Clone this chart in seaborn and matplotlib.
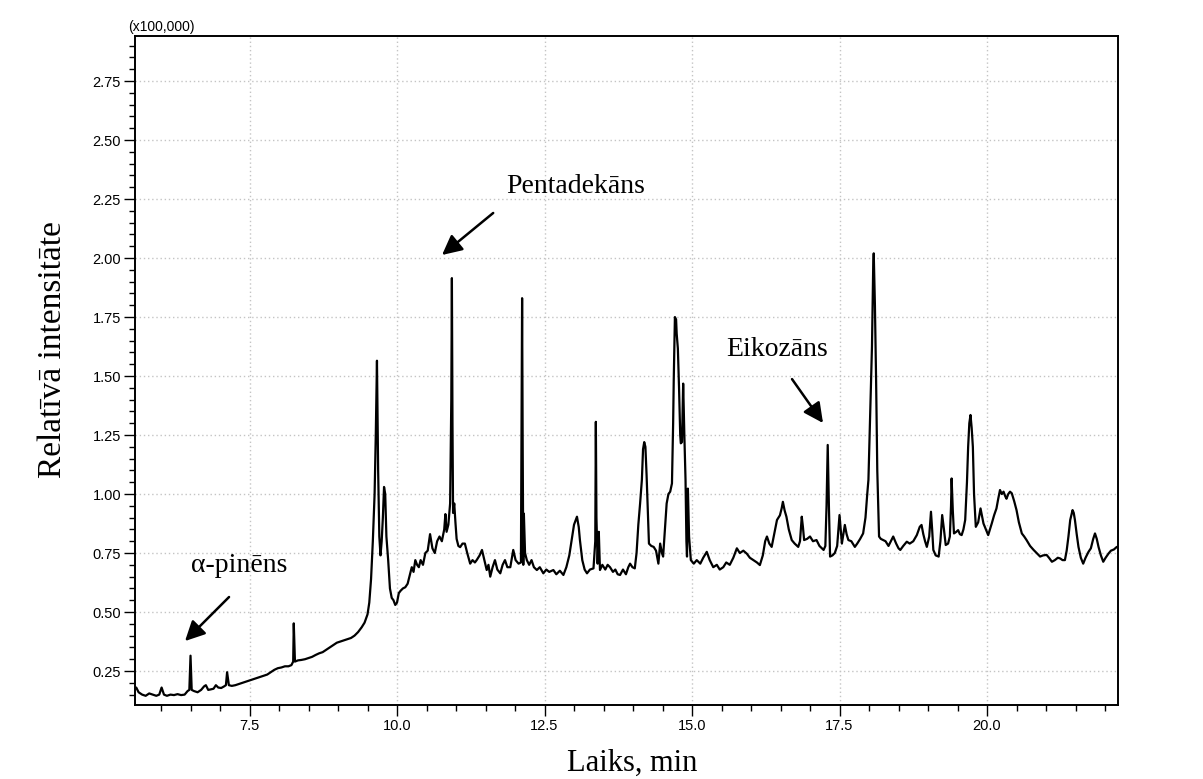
import numpy as np
import pandas as pd
import matplotlib
matplotlib.use("Agg")
import matplotlib.pyplot as plt
from matplotlib.ticker import MultipleLocator, FormatStrFormatter
import seaborn as sns

# ---------------- data (retention time, min ; intensity x100,000) ----------------
rt_early = [5.58, 5.62, 5.68, 5.74, 5.80, 5.86, 5.92, 5.97, 6.01, 6.05, 6.10, 6.16, 6.22, 6.28,
            6.34, 6.40, 6.45, 6.48, 6.50, 6.52, 6.56, 6.62, 6.68, 6.73, 6.76, 6.80, 6.84, 6.89,
            6.93, 6.97, 7.02, 7.07, 7.10, 7.12, 7.15, 7.20, 7.26, 7.32, 7.38, 7.44, 7.50, 7.56,
            7.62, 7.68, 7.74, 7.80, 7.86, 7.92, 7.98, 8.04, 8.10, 8.16, 8.21, 8.24, 8.25, 8.27,
            8.32, 8.38, 8.44, 8.50, 8.56, 8.62, 8.68, 8.74, 8.80, 8.86, 8.92, 8.98, 9.04, 9.10,
            9.16, 9.22, 9.28, 9.34, 9.40, 9.45, 9.50, 9.53, 9.56, 9.59, 9.62, 9.64, 9.66, 9.68,
            9.70, 9.72, 9.74, 9.76, 9.78, 9.80, 9.82, 9.85, 9.88, 9.91, 9.94, 9.97]
int_early = [0.18, 0.16, 0.15, 0.145, 0.155, 0.15, 0.145, 0.15, 0.18, 0.15, 0.145, 0.15, 0.148, 0.152,
             0.148, 0.15, 0.165, 0.17, 0.315, 0.17, 0.165, 0.16, 0.17, 0.185, 0.19, 0.17, 0.172, 0.175,
             0.19, 0.18, 0.178, 0.185, 0.19, 0.245, 0.19, 0.187, 0.19, 0.195, 0.20, 0.205, 0.21, 0.215,
             0.22, 0.225, 0.23, 0.235, 0.245, 0.255, 0.262, 0.265, 0.27, 0.27, 0.275, 0.29, 0.452, 0.29,
             0.295, 0.297, 0.30, 0.305, 0.31, 0.318, 0.325, 0.33, 0.34, 0.35, 0.36, 0.37, 0.375, 0.38,
             0.385, 0.39, 0.40, 0.415, 0.435, 0.455, 0.49, 0.54, 0.64, 0.80, 1.00, 1.25, 1.565, 1.10,
             0.82, 0.74, 0.80, 0.90, 1.03, 1.00, 0.82, 0.72, 0.60, 0.56, 0.55, 0.53]

rt_mid = [10.00, 10.03, 10.06, 10.10, 10.14, 10.18, 10.22, 10.25, 10.28, 10.31, 10.34, 10.37, 10.40,
          10.44, 10.48, 10.52, 10.56, 10.60, 10.64, 10.68, 10.72, 10.76, 10.80, 10.82, 10.84, 10.87,
          10.90, 10.92, 10.93, 10.94, 10.95, 10.97, 10.99, 11.01, 11.04, 11.07, 11.11, 11.15, 11.19,
          11.24, 11.28, 11.32, 11.35, 11.40, 11.44, 11.48, 11.52, 11.55, 11.58, 11.62, 11.66, 11.70,
          11.75, 11.79, 11.83, 11.87, 11.92, 11.97, 12.01, 12.06, 12.10, 12.11, 12.12, 12.13, 12.14,
          12.15, 12.17, 12.20, 12.24, 12.28, 12.32, 12.37, 12.42, 12.48, 12.53, 12.58, 12.65, 12.70,
          12.76, 12.82, 12.87, 12.92, 12.96, 13.00, 13.05, 13.08, 13.10, 13.14, 13.18, 13.22, 13.27,
          13.33, 13.36, 13.37, 13.38, 13.40, 13.42, 13.44, 13.48, 13.53, 13.57, 13.61, 13.66, 13.70,
          13.74, 13.78, 13.83, 13.88, 13.92, 13.95, 13.99, 14.03, 14.06, 14.09, 14.12, 14.15, 14.17,
          14.19, 14.21, 14.23, 14.25, 14.27, 14.31, 14.35, 14.39, 14.43, 14.46, 14.49, 14.51, 14.54,
          14.57, 14.60, 14.63, 14.66, 14.68, 14.69, 14.71, 14.73, 14.74, 14.76, 14.78, 14.80, 14.81,
          14.83, 14.85, 14.87, 14.89, 14.905, 14.915, 14.93, 14.95, 14.98]
int_mid = [0.54, 0.58, 0.59, 0.60, 0.605, 0.62, 0.66, 0.69, 0.67, 0.72, 0.70, 0.69, 0.72,
           0.70, 0.75, 0.76, 0.83, 0.77, 0.75, 0.80, 0.82, 0.80, 0.85, 0.915, 0.84, 0.87,
           0.96, 1.40, 1.915, 1.30, 0.92, 0.96, 0.88, 0.81, 0.78, 0.775, 0.79, 0.79, 0.75,
           0.705, 0.72, 0.71, 0.72, 0.74, 0.763, 0.72, 0.678, 0.70, 0.65, 0.69, 0.72, 0.68,
           0.664, 0.70, 0.72, 0.69, 0.69, 0.763, 0.72, 0.705, 0.71, 1.30, 1.83, 1.20, 0.70,
           0.917, 0.75, 0.72, 0.70, 0.72, 0.69, 0.678, 0.69, 0.664, 0.68, 0.67, 0.678, 0.66,
           0.675, 0.657, 0.69, 0.74, 0.805, 0.87, 0.904, 0.86, 0.805, 0.72, 0.68, 0.664, 0.68,
           0.685, 0.80, 1.306, 0.90, 0.705, 0.84, 0.678, 0.70, 0.68, 0.70, 0.69, 0.67, 0.68,
           0.66, 0.657, 0.68, 0.66, 0.69, 0.705, 0.69, 0.685, 0.75, 0.87, 0.96, 1.06, 1.19,
           1.22, 1.20, 1.08, 0.93, 0.79, 0.78, 0.776, 0.76, 0.705, 0.79, 0.75, 0.735, 0.85,
           0.96, 1.00, 1.01, 1.045, 1.30, 1.48, 1.75, 1.74, 1.68, 1.617, 1.45, 1.25, 1.215,
           1.22, 1.468, 1.25, 1.06, 0.80, 0.735, 1.023, 0.82, 0.72]

rt_late = [15.03, 15.08, 15.14, 15.19, 15.25, 15.30, 15.36, 15.42, 15.47, 15.53, 15.58, 15.64, 15.70,
           15.76, 15.81, 15.87, 15.93, 15.98, 16.04, 16.10, 16.15, 16.20, 16.24, 16.27, 16.31, 16.35,
           16.40, 16.44, 16.49, 16.52, 16.54, 16.57, 16.60, 16.64, 16.69, 16.74, 16.80, 16.83, 16.86,
           16.88, 16.90, 16.95, 17.00, 17.05, 17.11, 17.16, 17.20, 17.23, 17.26, 17.28, 17.30, 17.32,
           17.34, 17.38, 17.42, 17.46, 17.50, 17.52, 17.54, 17.59, 17.62, 17.65, 17.70, 17.76, 17.80,
           17.85, 17.90, 17.94, 17.97, 17.99, 18.02, 18.05, 18.07, 18.08, 18.10, 18.12, 18.14, 18.17,
           18.20, 18.24, 18.28, 18.33, 18.37, 18.41, 18.46, 18.50, 18.53, 18.58, 18.64, 18.69, 18.75,
           18.81, 18.86, 18.89, 18.92, 18.95, 18.98, 19.02, 19.05, 19.07, 19.09, 19.13, 19.18, 19.21,
           19.24, 19.27, 19.30, 19.34, 19.37, 19.39, 19.40, 19.42, 19.44, 19.48, 19.51, 19.54, 19.57,
           19.60, 19.63, 19.66, 19.68, 19.70, 19.72, 19.74, 19.76, 19.78, 19.81, 19.85, 19.89, 19.92,
           19.94, 19.98, 20.02, 20.05, 20.08, 20.12, 20.16, 20.19, 20.22, 20.25, 20.28, 20.31, 20.33,
           20.36, 20.39, 20.42, 20.46, 20.50, 20.54, 20.59, 20.63, 20.67, 20.73, 20.79, 20.84, 20.90,
           20.95, 21.01, 21.05, 21.10, 21.15, 21.20, 21.24, 21.28, 21.32, 21.35, 21.38, 21.41, 21.45,
           21.47, 21.49, 21.52, 21.55, 21.59, 21.63, 21.67, 21.72, 21.76, 21.80, 21.83, 21.86, 21.89,
           21.93, 21.97, 22.01, 22.06, 22.10, 22.15, 22.20]
int_late = [0.705, 0.72, 0.705, 0.73, 0.755, 0.72, 0.69, 0.70, 0.68, 0.69, 0.71, 0.70, 0.73,
            0.77, 0.75, 0.76, 0.747, 0.73, 0.72, 0.71, 0.699, 0.74, 0.80, 0.82, 0.79, 0.776,
            0.84, 0.89, 0.91, 0.94, 0.967, 0.93, 0.904, 0.85, 0.805, 0.79, 0.776, 0.80, 0.904,
            0.86, 0.805, 0.81, 0.82, 0.80, 0.805, 0.78, 0.77, 0.763, 0.78, 0.95, 1.208, 0.95,
            0.735, 0.74, 0.75, 0.78, 0.911, 0.85, 0.79, 0.869, 0.83, 0.805, 0.80, 0.776, 0.79,
            0.81, 0.833, 0.90, 1.00, 1.06, 1.35, 1.625, 1.95, 2.02, 1.80, 1.483, 1.10, 0.82,
            0.81, 0.805, 0.80, 0.78, 0.80, 0.82, 0.79, 0.77, 0.763, 0.78, 0.798, 0.79, 0.80,
            0.826, 0.861, 0.869, 0.83, 0.80, 0.776, 0.82, 0.925, 0.85, 0.763, 0.74, 0.735, 0.80,
            0.911, 0.85, 0.784, 0.79, 0.82, 0.95, 1.066, 0.93, 0.833, 0.84, 0.847, 0.83, 0.826,
            0.85, 0.89, 1.05, 1.20, 1.30, 1.335, 1.28, 1.20, 1.00, 0.861, 0.88, 0.939, 0.90,
            0.875, 0.85, 0.826, 0.85, 0.875, 0.91, 0.939, 0.98, 1.017, 1.00, 1.01, 0.99, 0.98,
            1.00, 1.01, 1.003, 0.97, 0.932, 0.88, 0.833, 0.82, 0.805, 0.78, 0.763, 0.75, 0.735,
            0.74, 0.742, 0.73, 0.713, 0.72, 0.73, 0.727, 0.72, 0.72, 0.76, 0.82, 0.89, 0.932,
            0.92, 0.89, 0.83, 0.776, 0.73, 0.705, 0.73, 0.755, 0.77, 0.81, 0.833, 0.81, 0.776,
            0.74, 0.713, 0.73, 0.748, 0.76, 0.765, 0.776]

y_ticks = [0.25, 0.50, 0.75, 1.00, 1.25, 1.50, 1.75, 2.00, 2.25, 2.50, 2.75]
x_ticks = [7.5, 10.0, 12.5, 15.0, 17.5, 20.0]

labels = ["α-pinēns", "Pentadekāns", "Eikozāns"]

df = pd.DataFrame({
    "Laiks": rt_early + rt_mid + rt_late,
    "Intensitāte": int_early + int_mid + int_late,
})

# ---------------- style ----------------
sns.set_style("white")
plt.rcParams["font.family"] = ["Liberation Sans", "DejaVu Sans"]
plt.rcParams["text.color"] = "black"
plt.rcParams["axes.labelcolor"] = "black"
plt.rcParams["xtick.color"] = "black"
plt.rcParams["ytick.color"] = "black"

fig = plt.figure(figsize=(12.03, 7.79), dpi=100)
ax = fig.add_axes([135 / 1203, 74 / 779, 983 / 1203, 669 / 779])

sns.lineplot(data=df, x="Laiks", y="Intensitāte", ax=ax, color="black",
             linewidth=1.6, estimator=None, sort=False)

ax.set_xlim(5.559, 22.22)
ax.set_ylim(0.106, 2.941)

ax.set_xticks(x_ticks)
ax.set_yticks(y_ticks)
ax.xaxis.set_major_formatter(FormatStrFormatter("%.1f"))
ax.yaxis.set_major_formatter(FormatStrFormatter("%.2f"))
ax.xaxis.set_minor_locator(MultipleLocator(0.5))
ax.yaxis.set_minor_locator(MultipleLocator(0.05))
ax.tick_params(which="major", direction="out", length=8, width=1.0, color="black",
               labelsize=10.5, labelcolor="black", pad=2)
ax.tick_params(which="minor", direction="out", length=4, width=1.0, color="black")
ax.tick_params(axis="x", which="both", bottom=True)
ax.tick_params(axis="y", which="both", left=True)

ax.grid(True, which="major", color="#c4c4c4", linestyle=(0, (1, 2)), linewidth=1.0)
for s in ax.spines.values():
    s.set_visible(True)
    s.set_color("black")
    s.set_linewidth(1.4)

serif = ["Liberation Serif", "DejaVu Serif"]
ax.set_xlabel("Laiks, min", fontsize=22, family=serif, va="center", color="black")
ax.xaxis.set_label_coords(0.5056, -0.0867)
ax.set_ylabel("Relatīvā intensitāte", fontsize=24, family=serif, va="center", color="black")
ax.yaxis.set_label_coords(-0.0834, 0.5307)

ax.annotate("(x100,000)", xy=(-0.007, 1.0135), xycoords="axes fraction",
            fontsize=10, ha="left", va="center", color="black")

arrow = dict(arrowstyle="-|>", color="black", lw=1.8, mutation_scale=30,
             shrinkA=0, shrinkB=0)

# annotations: text position (left, baseline) and arrow (tail -> head), data coords
ax.text(6.508, 0.669, labels[0], fontsize=20, family=serif, ha="left", va="baseline",
        color="black")
ax.annotate("", xy=(6.407, 0.377), xytext=(7.153, 0.5636), arrowprops=arrow)

ax.text(11.85, 2.275, labels[1], fontsize=20, family=serif, ha="left", va="baseline",
        color="black")
ax.annotate("", xy=(10.763, 2.013), xytext=(11.63, 2.191), arrowprops=arrow)

ax.text(15.576, 1.585, labels[2], fontsize=20, family=serif, ha="left", va="baseline",
        color="black")
ax.annotate("", xy=(17.22, 1.301), xytext=(16.695, 1.487), arrowprops=arrow)

fig.savefig("out.png", dpi=100, facecolor="white")
